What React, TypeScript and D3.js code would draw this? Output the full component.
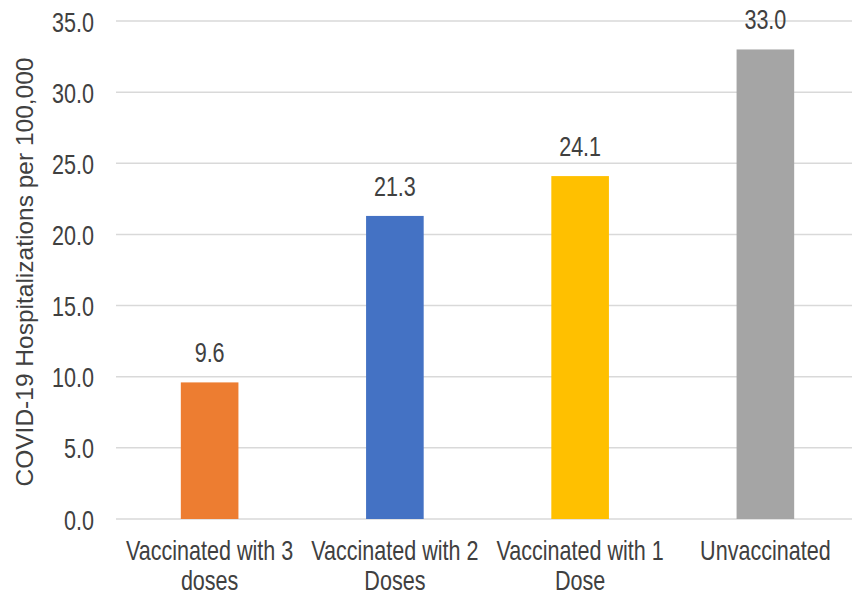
import * as d3 from 'd3';

const categories = [
  ['Vaccinated with 3', 'doses'],
  ['Vaccinated with 2', 'Doses'],
  ['Vaccinated with 1', 'Dose'],
  ['Unvaccinated'],
];
const values = [9.6, 21.3, 24.1, 33.0];
const barColors = ['#ED7D31', '#4472C4', '#FFC000', '#A5A5A5'];
const yTicks = [0, 5, 10, 15, 20, 25, 30, 35];
const yTitle = 'COVID-19 Hospitalizations per 100,000';

const width = 852;
const height = 595;
const MARGIN = { top: 21, right: -6, bottom: 76, left: 117 };

const FONT = '"Liberation Sans", Arial, sans-serif';
const SX = 0.77; // text in the picture is condensed

function Squeezed({ x, y, anchor, children }: { x: number; y: number; anchor: string; children: any }) {
  return (
    <text
      transform={`translate(${x},${y}) scale(${SX},1)`}
      textAnchor={anchor}
      fontFamily={FONT}
      fontSize={28}
      fill="#404040"
    >
      {children}
    </text>
  );
}

export default function App() {
  const xScale = d3
    .scaleBand<number>()
    .domain(d3.range(values.length))
    .range([MARGIN.left, width - MARGIN.right])
    .paddingInner(0.689)
    .paddingOuter(0.3445);

  const yScale = d3
    .scaleLinear()
    .domain([0, 35])
    .range([height - MARGIN.bottom, MARGIN.top]);

  const fmt = d3.format('.1f');

  return (
    <svg
      width={width}
      height={height}
      style={{ position: 'absolute', left: 0, top: 0, background: '#fff' }}
    >
      {/* gridlines */}
      {yTicks.map((t) => (
        <line
          key={t}
          x1={MARGIN.left - 1}
          x2={width}
          y1={yScale(t)}
          y2={yScale(t)}
          stroke="#d9d9d9"
          strokeWidth={1.5}
        />
      ))}

      {/* y tick labels */}
      {yTicks.map((t) => (
        <Squeezed key={t} x={94} y={yScale(t) + 10.5} anchor="end">
          {fmt(t)}
        </Squeezed>
      ))}

      {/* bars */}
      {values.map((v, i) => (
        <rect
          key={i}
          x={xScale(i)}
          y={yScale(v)}
          width={xScale.bandwidth()}
          height={yScale(0) - yScale(v)}
          fill={barColors[i]}
        />
      ))}

      {/* value labels */}
      {values.map((v, i) => (
        <Squeezed key={i} x={xScale(i)! + xScale.bandwidth() / 2} y={yScale(v) - 20} anchor="middle">
          {fmt(v)}
        </Squeezed>
      ))}

      {/* category labels */}
      {categories.map((lines, i) =>
        lines.map((ln, j) => (
          <Squeezed
            key={`${i}-${j}`}
            x={xScale(i)! + xScale.bandwidth() / 2}
            y={560 + j * 30}
            anchor="middle"
          >
            {ln}
          </Squeezed>
        ))
      )}

      {/* y axis title */}
      <text
        transform={`translate(33,${(yScale(0) + yScale(35)) / 2 + 2}) rotate(-90)`}
        textAnchor="middle"
        fontFamily={FONT}
        fontSize={24.5}
        fill="#404040"
      >
        {yTitle}
      </text>
    </svg>
  );
}
